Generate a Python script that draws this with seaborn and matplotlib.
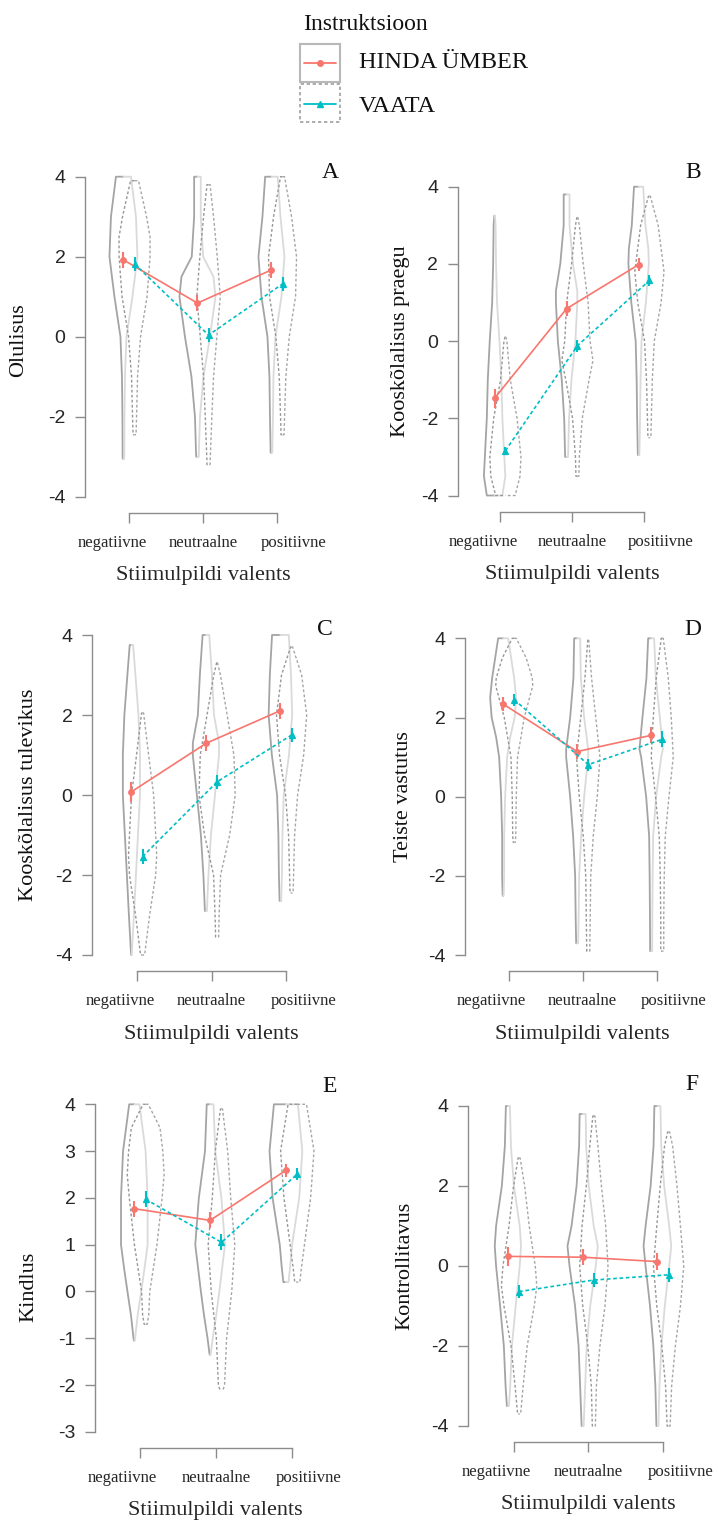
import numpy as np
import pandas as pd
import seaborn as sns
import matplotlib
matplotlib.use('Agg')
import matplotlib.pyplot as plt
from matplotlib.patches import Rectangle
from matplotlib.lines import Line2D

# categories
valents = ['negatiivne', 'neutraalne', 'positiivne']
instruktsioon = ['HINDA ÜMBER', 'VAATA']
ylabels = ['Olulisus', 'Kooskõlalisus praegu', 'Kooskõlalisus tulevikus',
           'Teiste vastutus', 'Kindlus', 'Kontrollitavus']
letters = ['A', 'B', 'C', 'D', 'E', 'F']

# means and error bar half-lengths per panel
a_hinda = [1.92, 0.84, 1.67]
a_vaata = [1.82, 0.04, 1.32]
a_err_hinda = [0.20, 0.20, 0.20]
a_err_vaata = [0.18, 0.18, 0.18]

b_hinda = [-1.48, 0.84, 1.98]
b_vaata = [-2.84, -0.12, 1.57]
b_err_hinda = [0.25, 0.20, 0.17]
b_err_vaata = [0.10, 0.15, 0.15]

c_hinda = [0.08, 1.29, 2.11]
c_vaata = [-1.54, 0.33, 1.50]
c_err_hinda = [0.25, 0.20, 0.20]
c_err_vaata = [0.18, 0.18, 0.18]

d_hinda = [2.34, 1.14, 1.55]
d_vaata = [2.45, 0.81, 1.45]
d_err_hinda = [0.17, 0.20, 0.20]
d_err_vaata = [0.15, 0.15, 0.20]

e_hinda = [1.77, 1.52, 2.59]
e_vaata = [1.97, 1.05, 2.51]
e_err_hinda = [0.17, 0.17, 0.14]
e_err_vaata = [0.17, 0.17, 0.13]

f_hinda = [0.24, 0.22, 0.11]
f_vaata = [-0.64, -0.35, -0.22]
f_err_hinda = [0.23, 0.20, 0.22]
f_err_vaata = [0.17, 0.17, 0.18]

# violin outlines: (score, half width of the density)
a_viol_hinda = [
    [(4, 7.5), (3, 12.5), (2, 14), (1, 9), (0, 3), (-1, 1.5), (-2, 1), (-3.05, 0.8)],
    [(4, 3.3), (3, 3.3), (2, 5.7), (1.5, 16), (1, 18), (0, 12.5), (-1, 6), (-2, 2.5), (-3, 1.3)],
    [(4, 6.3), (3, 9), (2, 13), (1, 10), (0, 4), (-1, 2), (-2, 1.5), (-2.9, 0.8)],
]
a_viol_vaata = [
    [(3.9, 4), (3, 12), (2.5, 15.5), (2, 15.5), (1, 12.5), (0, 6), (-1, 3), (-2, 2), (-2.45, 1.5)],
    [(3.8, 1.5), (3, 5), (2, 8.7), (1, 11.7), (0, 8.3), (-1, 5), (-2, 3.3), (-3.2, 1.5)],
    [(4, 2), (3, 9), (2, 14), (1, 13), (0, 6.7), (-1, 3.3), (-2, 2), (-2.45, 1.5)],
]
b_viol_hinda = [
    [(3.25, 0.3), (3, 1), (2, 1.5), (1, 2.5), (0, 5), (-1, 7), (-2, 8), (-3, 10), (-3.5, 11), (-4, 8)],
    [(3.8, 3), (3, 3), (2, 6.5), (1.3, 11), (1, 11), (0, 9), (-1, 5), (-2, 2.5), (-3, 1.5)],
    [(4, 4.7), (3, 7), (2.4, 10), (2, 10.5), (1, 7.5), (0, 3), (-1, 2), (-2, 1.5), (-2.95, 0.8)],
]
b_viol_vaata = [
    [(0.1, 0.5), (0, 1.5), (-1, 5), (-2, 12), (-3, 16), (-3.5, 15), (-4, 10)],
    [(3.2, 0.5), (3, 2), (2, 6), (1, 11), (0, 13), (-0.5, 16), (-1, 12), (-2, 5), (-3, 2), (-3.5, 1.5)],
    [(3.75, 1), (3, 9), (2, 14), (1.8, 15), (1, 12), (0, 5), (-1, 3), (-2, 2), (-2.5, 1.5)],
]
c_viol_hinda = [
    [(3.75, 1.7), (3, 4), (2, 7), (1, 8.5), (0, 8.5), (-1, 6.5), (-2, 4.5), (-3, 2.5), (-4, 0.3)],
    [(4, 3.3), (3, 6), (2, 8), (1.3, 13), (1, 13), (0, 9), (-1, 5), (-2, 2.5), (-2.9, 1)],
    [(4, 8.3), (3, 10.5), (2, 11.7), (1, 8.5), (0, 3.3), (-1, 2), (-2, 1.5), (-2.65, 0.8)],
]
c_viol_vaata = [
    [(2.05, 1), (1, 6), (0, 11), (-1, 13), (-1.5, 14), (-2, 13), (-3, 7), (-4, 2)],
    [(3.3, 0.5), (3, 3.3), (2, 10), (1, 16.7), (0, 18), (-1, 12.5), (-2, 3.5), (-3, 2), (-3.55, 1.5)],
    [(3.7, 1), (3, 10), (2, 15), (1, 12), (0, 6), (-1, 3), (-2, 2), (-2.45, 1.5)],
]
d_viol_hinda = [
    [(4, 5), (3, 11), (2.5, 13), (2, 11.5), (1.5, 7), (1, 4), (0, 2), (-1, 1), (-2, 1), (-2.5, 0.5)],
    [(4, 3), (3, 3.7), (2, 7), (1.2, 11), (1, 11), (0, 7), (-1, 4), (-2, 2), (-3, 1.5), (-3.7, 1)],
    [(4, 3), (3, 4.7), (2, 8.7), (1.2, 11.7), (1, 10), (0, 5), (-1, 2), (-2, 1.5), (-3, 1.2), (-3.9, 1)],
]
d_viol_vaata = [
    [(4, 2), (3.5, 12), (3, 18), (2.8, 18.5), (2, 10), (1, 3.3), (0, 2), (-1, 1.5), (-1.15, 1)],
    [(3.95, 0.5), (3, 3.3), (2, 7.5), (1, 11.7), (0, 9), (-1, 5), (-2, 2.5), (-3, 2), (-3.9, 1.5)],
    [(4, 1), (3, 6), (2, 9), (1, 11), (0, 6.7), (-1, 3), (-2, 2), (-3, 1.5), (-3.9, 1.5)],
]
e_viol_hinda = [
    [(4, 5), (3, 11), (2, 13), (1, 13), (0.5, 10), (0, 6.7), (-0.5, 3.3), (-1.05, 0.5)],
    [(4, 3.3), (3, 5), (2, 11), (1, 14.5), (0, 9), (-0.5, 6), (-1, 2.5), (-1.35, 0.5)],
    [(4, 11.7), (3, 16), (2, 13), (1, 6), (0.5, 4), (0.2, 2.5)],
]
e_viol_vaata = [
    [(4, 2.5), (3.5, 14), (3, 16.7), (2.5, 18), (2, 16), (1, 11), (0, 4), (-0.5, 3), (-0.7, 1.5)],
    [(3.9, 1), (3, 6), (2, 9), (1, 13), (0, 10), (-1, 5), (-2, 3), (-2.1, 1.5)],
    [(4, 9), (3, 16.3), (2, 13), (1, 7), (0.5, 4), (0.2, 2.5)],
]
f_viol_hinda = [
    [(4, 2), (3, 3), (2, 6), (1, 11.7), (0.5, 13), (0, 11.7), (-1, 7.7), (-2, 4), (-3, 2.3), (-3.5, 1)],
    [(3.8, 3), (3, 3.5), (2, 6), (1, 11), (0.5, 15), (0, 13), (-1, 7.5), (-2, 4), (-3, 2.5), (-4, 1)],
    [(4, 3), (3, 3.8), (2, 6.7), (1, 11.7), (0.5, 13.7), (0, 11.7), (-1, 7.3), (-2, 4), (-3, 2), (-4, 1)],
]
f_viol_vaata = [
    [(2.7, 1), (2, 5.5), (1, 10), (0, 16), (-0.5, 17.5), (-1, 15), (-2, 8), (-3, 4), (-3.7, 1.5)],
    [(3.75, 1), (3, 4), (2, 7.5), (1, 11.7), (0, 14), (-1, 11), (-2, 6), (-3, 2.5), (-4, 1.5)],
    [(3.35, 1), (3, 4), (2, 8.3), (1, 11.7), (0, 15), (-1, 11.7), (-2, 6.7), (-3, 3), (-4, 1.5)],
]

panels = [
    (a_hinda, a_vaata, a_err_hinda, a_err_vaata, a_viol_hinda, a_viol_vaata),
    (b_hinda, b_vaata, b_err_hinda, b_err_vaata, b_viol_hinda, b_viol_vaata),
    (c_hinda, c_vaata, c_err_hinda, c_err_vaata, c_viol_hinda, c_viol_vaata),
    (d_hinda, d_vaata, d_err_hinda, d_err_vaata, d_viol_hinda, d_viol_vaata),
    (e_hinda, e_vaata, e_err_hinda, e_err_vaata, e_viol_hinda, e_viol_vaata),
    (f_hinda, f_vaata, f_err_hinda, f_err_vaata, f_viol_hinda, f_viol_vaata),
]

# layout in pixels: spine x, first category x, px per category, y of top tick, px per unit, top, bottom
W, H = 718, 1524
layout = [
    dict(spine=85, cx0=129, sx=74, ytop=176.7, sy=40, vtop=4, vbot=-4, lab=(19, 340), let=(330, 172)),
    dict(spine=457.7, cx0=500, sx=72, ytop=186.7, sy=38.6, vtop=4, vbot=-4, lab=(400, 341), let=(693, 172)),
    dict(spine=92, cx0=137, sx=74.5, ytop=635, sy=40, vtop=4, vbot=-4, lab=(29, 795), let=(325, 630)),
    dict(spine=465, cx0=508.7, sx=74, ytop=638.3, sy=39.6, vtop=4, vbot=-4, lab=(403, 797), let=(693, 630)),
    dict(spine=95, cx0=140, sx=75.8, ytop=1104.3, sy=46.8, vtop=4, vbot=-3, lab=(29, 1287), let=(330, 1087)),
    dict(spine=468, cx0=513.5, sx=74.75, ytop=1106, sy=40, vtop=4, vbot=-4, lab=(405, 1266), let=(692, 1085)),
]
# category labels sit a little wider apart than the bracket ticks
label_pos = [-0.23, 1.0, 2.23]

RED = '#F8766D'
CYAN = '#00BFC4'
AXIS = '#8c8c8c'

sns.set_style('white')
plt.rcParams['font.family'] = ['Liberation Serif', 'DejaVu Serif']
plt.rcParams['text.color'] = '#111111'


def fpos(x, y):
    return x / W, 1 - y / H


def draw_violin(ax, xc, knots, dashed):
    ys = np.array([k[0] for k in knots])
    ws = np.array([k[1] for k in knots]) / 74.0
    yy = np.r_[ys[0], ys, ys[-1]]
    if dashed:
        dark = dict(color='#979797', lw=1.0, ls=(0, (2, 1.6)))
        light = dict(color='#a6a6a6', lw=1.0, ls=(0, (2, 1.6)))
    else:
        dark = dict(color='#a4a4a4', lw=1.3)
        light = dict(color='#dadada', lw=1.3)
    ax.plot(np.r_[xc, xc - ws, xc], yy, zorder=1, clip_on=False, **dark)
    ax.plot(np.r_[xc, xc + ws, xc], yy, zorder=1, clip_on=False, **light)


fig = plt.figure(figsize=(W / 100, H / 100), dpi=100)

for i, (hinda, vaata, err_h, err_v, viol_h, viol_v) in enumerate(panels):
    L = layout[i]
    sx, sy = L['sx'], L['sy']
    xl = (L['spine'] - L['cx0']) / sx
    xr = 2 - xl
    y_lo = L['vbot'] - 16 / sy
    y_hi = L['vtop'] + 8 / sy
    left_px = L['spine']
    right_px = L['cx0'] + xr * sx
    top_px = L['ytop'] - 8
    bottom_px = L['ytop'] + (L['vtop'] - L['vbot']) * sy + 16
    ax = fig.add_axes([left_px / W, 1 - bottom_px / H,
                       (right_px - left_px) / W, (bottom_px - top_px) / H])

    rows = []
    for inst, vals in zip(instruktsioon, [hinda, vaata]):
        for v, m in zip(valents, vals):
            rows.append({'valents': v, 'instruktsioon': inst, 'keskmine': m})
    df = pd.DataFrame(rows)

    sns.pointplot(data=df, x='valents', y='keskmine', hue='instruktsioon',
                  order=valents, hue_order=instruktsioon, palette=[RED, CYAN],
                  markers=['o', '^'], linestyles=['-', '--'], dodge=0.15,
                  errorbar=None, legend=False, ax=ax,
                  markersize=4, linewidth=1.2)
    lines = ax.get_lines()[:2]
    lines[1].set_dashes([2.2, 1.6])
    for ln in lines:
        ln.set_zorder(5)

    xs_h = lines[0].get_xdata()
    xs_v = lines[1].get_xdata()
    for j in range(3):
        draw_violin(ax, xs_h[j], viol_h[j], dashed=False)
        draw_violin(ax, xs_v[j], viol_v[j], dashed=True)

    ax.vlines(xs_h, np.array(hinda) - np.array(err_h), np.array(hinda) + np.array(err_h),
              color=RED, lw=1.5, zorder=4)
    ax.vlines(xs_v, np.array(vaata) - np.array(err_v), np.array(vaata) + np.array(err_v),
              color=CYAN, lw=1.5, zorder=4)

    ax.set_xlim(xl, xr)
    ax.set_ylim(y_lo, y_hi)
    sns.despine(ax=ax)
    ax.spines['left'].set_bounds(L['vbot'], L['vtop'])
    ax.spines['bottom'].set_bounds(0, 2)
    for s in ['left', 'bottom']:
        ax.spines[s].set_color(AXIS)
        ax.spines[s].set_linewidth(1.0)

    if L['vbot'] == -3:
        yt = list(range(-3, 5))
    else:
        yt = [-4, -2, 0, 2, 4]
    ax.set_yticks(yt)
    ax.set_yticklabels([str(t) for t in yt], fontfamily='Liberation Sans', fontsize=14)
    ax.xaxis.remove_overlapping_locs = False
    ax.set_xticks([0, 1, 2])
    ax.set_xticklabels(['', '', ''])
    ax.set_xticks(label_pos, minor=True)
    ax.set_xticklabels(valents, minor=True, fontsize=12)
    ax.tick_params(axis='y', direction='out', length=7, width=1, color=AXIS, pad=7, left=True)
    ax.tick_params(axis='x', which='major', direction='out', length=7, width=1,
                   color=AXIS, pad=2, bottom=True)
    ax.tick_params(axis='x', which='minor', length=0, pad=16, bottom=True)
    ax.set_xlabel('Stiimulpildi valents', fontsize=16, labelpad=11)
    ax.set_ylabel('')
    ax.patch.set_alpha(0)

    fig.text(*fpos(*L['lab']), ylabels[i], rotation=90, ha='center', va='center', fontsize=16)
    fig.text(*fpos(*L['let']), letters[i], ha='center', va='center', fontsize=17)

# legend drawn by hand: boxed line samples
fig.text(*fpos(303, 24), 'Instruktsioon', ha='left', va='center', fontsize=17)
fig.add_artist(Rectangle(fpos(300, 82), 40 / W, 38 / H, transform=fig.transFigure,
                         fill=False, ec='#b8b8b8', lw=1.5))
fig.add_artist(Rectangle(fpos(300, 122), 40 / W, 38 / H, transform=fig.transFigure,
                         fill=False, ec='#a0a0a0', lw=1.2, ls=(0, (2, 1.6))))
for yy, col, mk in [(63, RED, 'o'), (104, CYAN, '^')]:
    x0, y0 = fpos(304, yy)
    x1, _ = fpos(336, yy)
    fig.add_artist(Line2D([x0, x1], [y0, y0], transform=fig.transFigure, color=col, lw=1.3))
    fig.add_artist(Line2D([(x0 + x1) / 2], [y0], transform=fig.transFigure, color=col,
                          marker=mk, markersize=4, lw=0))
fig.text(*fpos(359, 63), 'HINDA ÜMBER', ha='left', va='center', fontsize=17.5)
fig.text(*fpos(359, 107), 'VAATA', ha='left', va='center', fontsize=17.5)

fig.savefig('out.png', dpi=100)
